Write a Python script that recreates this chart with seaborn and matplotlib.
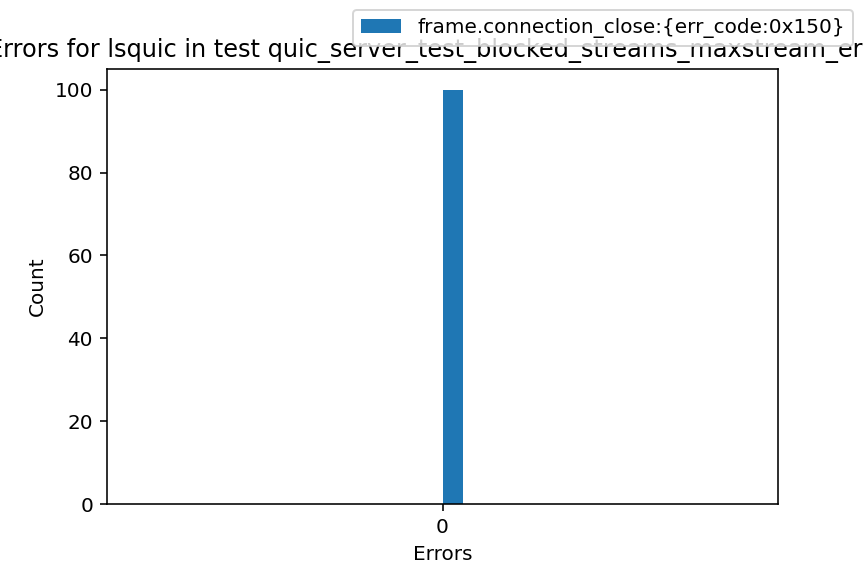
import matplotlib
matplotlib.use("Agg")
import matplotlib.pyplot as plt  # noqa: E402
import numpy as np  # noqa: E402
import pandas as pd  # noqa: E402
import seaborn as sns  # noqa: E402

# data
error_labels = ["frame.connection_close:{err_code:0x150}"]
error_counts = [100]
x_ticks = [0]
x_tick_labels = ["0"]
bar_width = 0.03

# bars are placed side by side starting at the tick, one bar width each
offsets = np.arange(len(error_labels)) * bar_width + bar_width / 2
df = pd.DataFrame({"pos": offsets, "count": error_counts, "label": error_labels})

fig = plt.figure(figsize=(6, 4), dpi=144)
ax = fig.add_axes([107 / 864, 1 - 504 / 576, 671 / 864, 435 / 576])

sns.barplot(
    data=df,
    x="pos",
    y="count",
    hue="label",
    native_scale=True,
    width=bar_width,
    dodge=False,
    palette=["#1f77b4"],
    saturation=1,
    ax=ax,
)

ax.set_xlim(-0.5, 0.5)
ax.set_xticks(x_ticks)
ax.set_xticklabels(x_tick_labels)
ax.set_yticks([0, 20, 40, 60, 80, 100])
ax.set_ylim(0, 105)
ax.set_xlabel("Errors")
ax.set_ylabel("Count")
ax.set_title("Errors for lsquic in test quic_server_test_blocked_streams_maxstream_error")

ax.legend(
    loc="upper right",
    bbox_to_anchor=(853 / 864, 1 - 10 / 576),
    bbox_transform=fig.transFigure,
    borderaxespad=0,
)

fig.savefig("out.png", dpi=144)
